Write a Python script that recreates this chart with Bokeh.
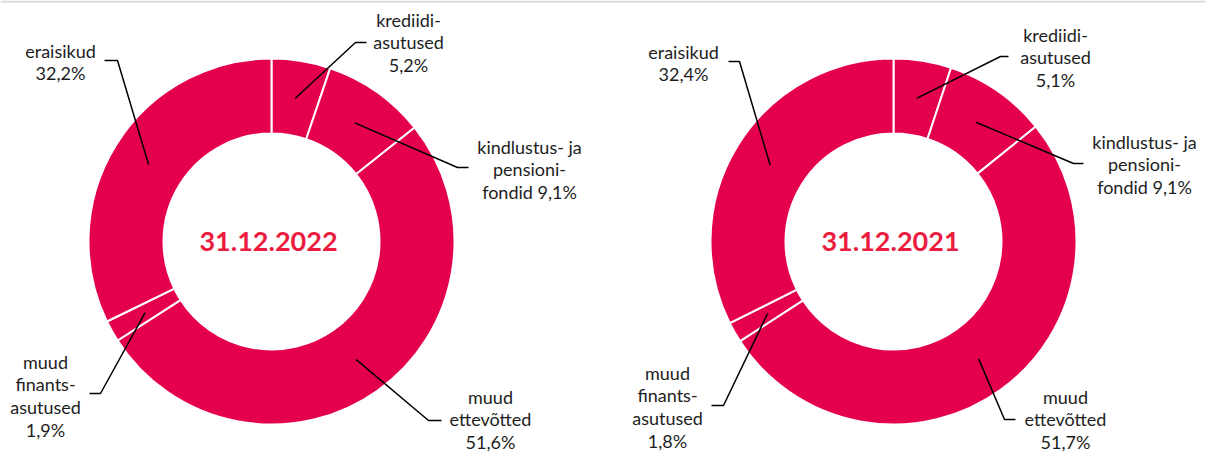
import math
from bokeh.plotting import figure
from bokeh.models import ColumnDataSource, Range1d
from bokeh.core.properties import value
from bokeh.embed import file_html
from bokeh.resources import INLINE

# ---------------- data ----------------
dates = ["31.12.2022", "31.12.2021"]
categories = ["krediidiasutused", "kindlustus- ja pensionifondid", "muud ettevõtted",
              "muud finantsasutused", "eraisikud"]
values_2022 = [5.2, 9.1, 51.6, 1.9, 32.2]
values_2021 = [5.1, 9.1, 51.7, 1.8, 32.4]
label_lines = [
    ["krediidi-", "asutused", "{v}"],
    ["kindlustus- ja", "pensioni-", "fondid {v}"],
    ["muud", "ettevõtted", "{v}"],
    ["muud", "finants-", "asutused", "{v}"],
    ["eraisikud", "{v}"],
]
series = [values_2022, values_2021]

# ---------------- layout (screen px) ----------------
W, H = 1206, 452
centers = [(271, 241), (893, 241)]
R_OUT, R_IN, R_LEAD = 183, 108, 145
# per chart, per category: (elbow, end, text centre x, first line y)
layouts = [
    [((355, 42), (366, 42), 408, 19),
     ((457, 167), (468, 167), 529, 146),
     ((428, 420), (441, 420), 490, 396),
     ((100, 393), (89, 393), 45, 361),
     ((117, 60), (104, 60), 60, 50)],
    [((1000, 56), (1008, 56), 1055, 34),
     ((1073, 163), (1083, 163), 1144, 141),
     ((1004, 419), (1015, 419), 1065, 396),
     ((723, 405), (711, 405), 667, 372),
     ((739, 61), (728, 61), 683, 51)],
]
LINE_H = 22.8
SLICE_COLOR = "#E5004F"
TITLE_COLOR = "#EA1D3F"
TEXT_COLOR = "#1E1E1E"
FONT = "Lato"


def Y(y):
    return H - y


p = figure(width=W, height=H, x_range=Range1d(0, W), y_range=Range1d(0, H),
           output_backend="svg", toolbar_location=None, min_border=0,
           x_axis_type=None, y_axis_type=None)
p.grid.visible = False
p.outline_line_color = None
p.background_fill_color = "white"

# thin grey band at the top
p.quad(left=[0], right=[W], bottom=[Y(2)], top=[Y(0)], fill_color="#D9D9D9", line_color=None)

for ci, vals in enumerate(series):
    cx, cy = centers[ci]
    total = sum(vals)
    starts, ends, mids = [], [], []
    cum = 0.0
    for v in vals:
        a0 = cum / total
        cum += v
        a1 = cum / total
        starts.append(math.pi / 2 - 2 * math.pi * a0)
        ends.append(math.pi / 2 - 2 * math.pi * a1)
        mids.append(math.pi / 2 - 2 * math.pi * (a0 + a1) / 2)
    src = ColumnDataSource(dict(x=[cx] * len(vals), y=[Y(cy)] * len(vals),
                                start=starts, end=ends, cat=categories, val=vals))
    p.annular_wedge(x="x", y="y", inner_radius=R_IN, outer_radius=R_OUT,
                    start_angle="start", end_angle="end", direction="clock",
                    fill_color=SLICE_COLOR, line_color="white", line_width=2, source=src)

    # centre title
    p.text(x=[cx - 3], y=[Y(cy)], text=[dates[ci]], text_align="center",
           text_baseline="middle", text_font=value(FONT), text_font_style="bold",
           text_font_size="27px", text_color=TITLE_COLOR)

    # leaders + labels
    xs, ys = [], []
    tx, ty, tt = [], [], []
    for k, v in enumerate(vals):
        (ex, ey), (nx, ny), lx, ly = layouts[ci][k]
        sx = cx + R_LEAD * math.cos(mids[k])
        sy = Y(cy) + R_LEAD * math.sin(mids[k])
        xs.append([sx, ex, nx])
        ys.append([sy, Y(ey), Y(ny)])
        pct = f"{v:.1f}%".replace(".", ",")
        for j, line in enumerate(label_lines[k]):
            tx.append(lx)
            ty.append(Y(ly + j * LINE_H))
            tt.append(line.replace("{v}", pct))
    p.multi_line(xs=xs, ys=ys, line_color="black", line_width=1.5)
    p.text(x=tx, y=ty, text=tt, text_align="center", text_baseline="middle",
           text_font=value(FONT), text_font_size="18px", text_color=TEXT_COLOR)

open("out.html", "w").write(file_html(p, INLINE))
